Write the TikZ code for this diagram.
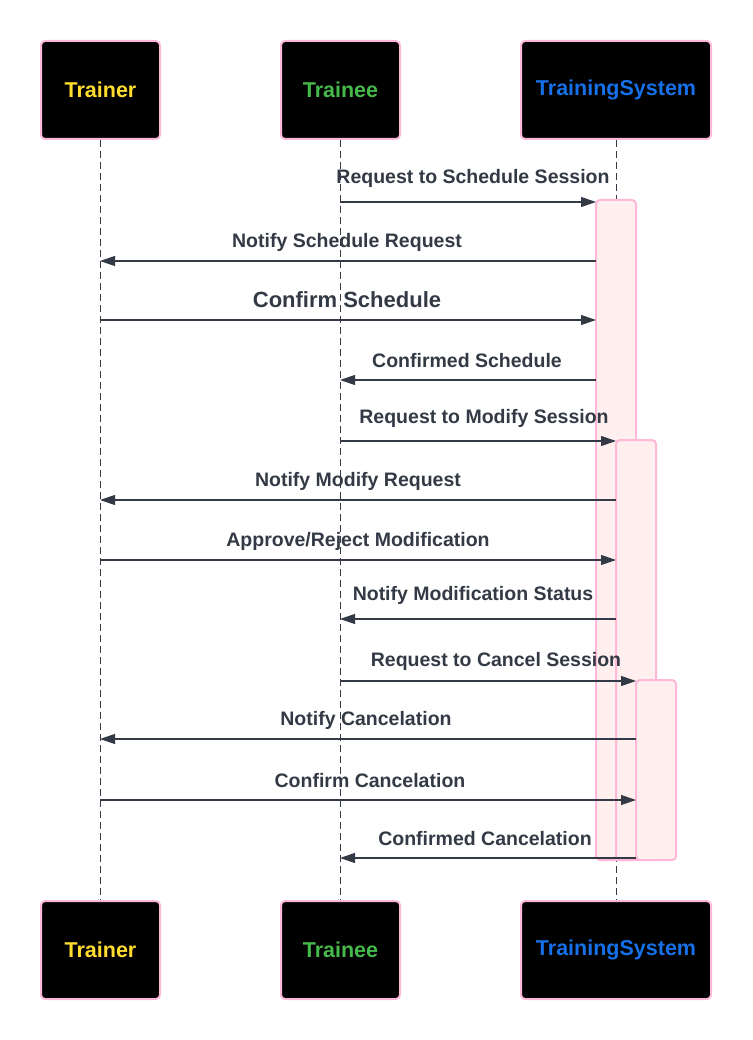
\documentclass[tikz,border=0pt]{standalone}
\usepackage{fontspec}
\setmainfont{Liberation Sans}
\usetikzlibrary{arrows.meta}
\definecolor{txt}{HTML}{333A45}
\definecolor{pinkb}{HTML}{FFB8D8}
\definecolor{actfill}{HTML}{FFEFEF}
\definecolor{cTrainer}{HTML}{FFDD2E}
\definecolor{cTrainee}{HTML}{45B94A}
\definecolor{cSystem}{HTML}{1670E8}
\tikzset{
  actor/.style={draw=pinkb, line width=2pt, fill=black, rounded corners=4pt, minimum height=98pt, inner sep=0pt, font=\bfseries\fontsize{21.5}{24}\selectfont},
  lifeline/.style={draw=txt, line width=0.9pt, dash pattern=on 7pt off 4pt},
  actbox/.style={draw=pinkb, line width=2pt, fill=actfill, rounded corners=4pt},
  msg/.style={draw=txt, line width=1.1pt, -{Triangle[length=15pt,width=10pt]}},
  lbl/.style={text=txt, font=\bfseries\fontsize{19.5}{22}\selectfont, inner sep=0pt},
  lblbig/.style={text=txt, font=\bfseries\fontsize{22}{25}\selectfont, inner sep=0pt}
}
\begin{document}
\begin{tikzpicture}[x=1pt,y=-1pt]
\useasboundingbox (0,0) rectangle (752,1040);
% actors
\node[actor, minimum width=119pt, text=cTrainer] (trT) at (100.5,90) {Trainer};
\node[actor, minimum width=119pt, text=cTrainee] (teT) at (340.5,90) {Trainee};
\node[actor, minimum width=190pt, text=cSystem] (tsT) at (616,90) {TrainingSystem};
\node[actor, minimum width=119pt, text=cTrainer] (trB) at (100.5,950) {Trainer};
\node[actor, minimum width=119pt, text=cTrainee] (teB) at (340.5,950) {Trainee};
\node[actor, minimum width=190pt, text=cSystem] (tsB) at (616,950) {TrainingSystem};
% lifelines
\draw[lifeline] (trT.south -| 100,0) -- (trB.north -| 100,0);
\draw[lifeline] (teT.south -| 340,0) -- (teB.north -| 340,0);
\draw[lifeline] (tsT.south -| 616,0) -- (tsB.north -| 616,0);
% activation boxes
\draw[actbox] (596,200) rectangle (636,860);
\node[inner sep=0pt] (act1) at (616,530) {};
\draw[actbox] (616,440) rectangle (656,860);
\node[inner sep=0pt] (act2) at (636,650) {};
\draw[actbox] (636,680) rectangle (676,860);
\node[inner sep=0pt] (act3) at (656,770) {};
% message endpoints
\coordinate (m1a) at (340,202);  \coordinate (m1b) at (596,202);
\coordinate (m2a) at (596,261);  \coordinate (m2b) at (100,261);
\coordinate (m3a) at (100,320);  \coordinate (m3b) at (596,320);
\coordinate (m4a) at (596,380);  \coordinate (m4b) at (340,380);
\coordinate (m5a) at (340,441);  \coordinate (m5b) at (616,441);
\coordinate (m6a) at (616,500);  \coordinate (m6b) at (100,500);
\coordinate (m7a) at (100,560);  \coordinate (m7b) at (616,560);
\coordinate (m8a) at (616,619);  \coordinate (m8b) at (340,619);
\coordinate (m9a) at (340,681);  \coordinate (m9b) at (636,681);
\coordinate (m10a) at (636,739); \coordinate (m10b) at (100,739);
\coordinate (m11a) at (100,800); \coordinate (m11b) at (636,800);
\coordinate (m12a) at (636,858); \coordinate (m12b) at (340,858);
% messages
\foreach \i in {1,...,12} { \draw[msg] (m\i a) -- (m\i b); }
% labels
\node[lbl] (l1) at (473,178) {Request to Schedule Session};
\node[lbl] (l2) at (347,242) {Notify Schedule Request};
\node[lblbig] (l3) at (347,300) {Confirm Schedule};
\node[lbl] (l4) at (467,361) {Confirmed Schedule};
\node[lbl] (l5) at (484,418) {Request to Modify Session};
\node[lbl] (l6) at (358,481) {Notify Modify Request};
\node[lbl] (l7) at (358,541) {Approve/Reject Modification};
\node[lbl] (l8) at (473,595) {Notify Modification Status};
\node[lbl] (l9) at (496,661) {Request to Cancel Session};
\node[lbl] (l10) at (366,720) {Notify Cancelation};
\node[lbl] (l11) at (370,781) {Confirm Cancelation};
\node[lbl] (l12) at (485,839) {Confirmed Cancelation};
\end{tikzpicture}
\end{document}
